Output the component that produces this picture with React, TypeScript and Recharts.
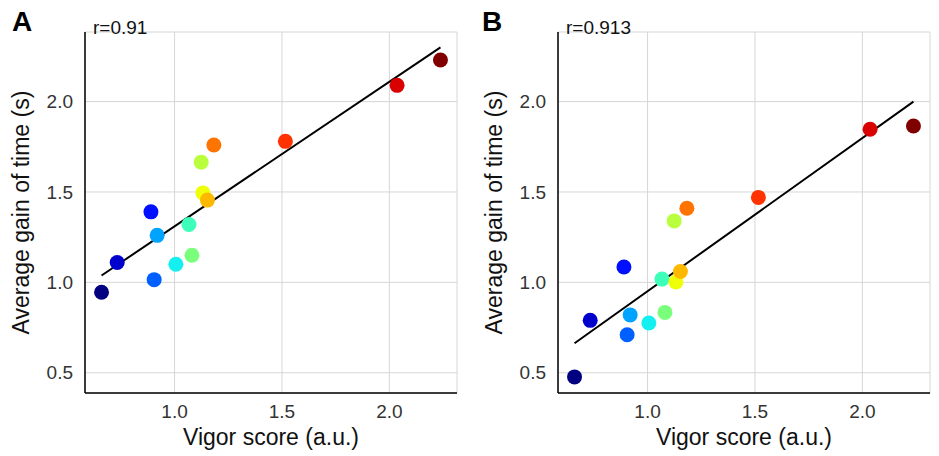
import { ScatterChart, Scatter, XAxis, YAxis, CartesianGrid, Label } from 'recharts'

const vigor = [0.66, 0.733, 0.89, 0.905, 0.919, 1.006, 1.067, 1.081, 1.124, 1.132, 1.153, 1.183, 1.516, 2.036, 2.238]
const gainA = [0.945, 1.11, 1.39, 1.015, 1.26, 1.10, 1.32, 1.15, 1.665, 1.495, 1.455, 1.76, 1.78, 2.09, 2.23]
const gainB = [0.477, 0.79, 1.085, 0.71, 0.82, 0.775, 1.018, 0.834, 1.34, 1.002, 1.06, 1.41, 1.47, 1.847, 1.865]
const colors = ['#000080', '#0000cd', '#0010ff', '#0060ff', '#00a4ff', '#14f0ef', '#3dffba', '#7aff7d', '#baff3d', '#eeff08', '#ffb800', '#ff7300', '#ff3200', '#d90000', '#800000']
const xTicks = [1.0, 1.5, 2.0]
const yTicks = [0.5, 1.0, 1.5, 2.0]

const font = '"Liberation Sans", Arial, sans-serif'

function fitLine(xs: number[], ys: number[]) {
  const n = xs.length
  const mx = xs.reduce((a, b) => a + b, 0) / n
  const my = ys.reduce((a, b) => a + b, 0) / n
  let sxy = 0
  let sxx = 0
  xs.forEach((x, i) => {
    sxy += (x - mx) * (ys[i] - my)
    sxx += (x - mx) * (x - mx)
  })
  const b = sxy / sxx
  const a = my - b * mx
  const x0 = Math.min(...xs)
  const x1 = Math.max(...xs)
  return [{ x: x0, y: a + b * x0 }, { x: x1, y: a + b * x1 }]
}

const Dot = (props: any) => <circle cx={props.cx} cy={props.cy} r={7.5} fill={props.payload.color} />

function Panel({ letter, r, gain, left, marginLeft, marginRight }: { letter: string; r: string; gain: number[]; left: number; marginLeft: number; marginRight: number }) {
  const points = vigor.map((x, i) => ({ x, y: gain[i], color: colors[i] }))
  const line = fitLine(vigor, gain)
  return (
    <div style={{ position: 'absolute', left, top: 0, width: 469, height: 456 }}>
      <ScatterChart width={469} height={456} margin={{ top: 32, right: marginRight, bottom: 23, left: marginLeft }}>
        <CartesianGrid stroke="#d6d6d6" strokeWidth={1} />
        <XAxis type="number" dataKey="x" domain={[0.583, 2.315]} ticks={xTicks} tickFormatter={(v: number) => v.toFixed(1)}
          tickLine={false} axisLine={{ stroke: '#000', strokeWidth: 1.5 }} height={40}
          tick={{ fill: '#333', fontSize: 19, fontFamily: font }} tickMargin={6}>
          <Label value="Vigor score (a.u.)" position="insideBottom" offset={-12} style={{ fill: '#111', fontSize: 23, fontFamily: font }} />
        </XAxis>
        <YAxis type="number" dataKey="y" domain={[0.388, 2.385]} ticks={yTicks} tickFormatter={(v: number) => v.toFixed(1)}
          tickLine={false} axisLine={{ stroke: '#000', strokeWidth: 1.5 }} width={60}
          tick={{ fill: '#333', fontSize: 19, fontFamily: font }} tickMargin={6}>
          <Label value="Average gain of time (s)" angle={-90} position="insideLeft" offset={-4}
            style={{ fill: '#111', fontSize: 23, fontFamily: font, textAnchor: 'middle' }} />
        </YAxis>
        <Scatter data={line} line={{ stroke: '#000', strokeWidth: 2 }} shape={() => null} isAnimationActive={false} />
        <Scatter data={points} shape={Dot} isAnimationActive={false} />
      </ScatterChart>
      <div style={{ position: 'absolute', left: 12, top: 6, fontFamily: font, fontWeight: 'bold', fontSize: 28 }}>{letter}</div>
      <div style={{ position: 'absolute', left: marginLeft + 68, top: 17, fontFamily: font, fontSize: 19, color: '#111' }}>{r}</div>
    </div>
  )
}

export default function App() {
  return (
    <div style={{ position: 'fixed', left: 0, top: 0, width: 939, height: 456, background: '#fff' }}>
      <Panel letter="A" r="r=0.91" gain={gainA} left={0} marginLeft={25} marginRight={12} />
      <Panel letter="B" r="r=0.913" gain={gainB} left={470} marginLeft={28} marginRight={9} />
    </div>
  )
}
